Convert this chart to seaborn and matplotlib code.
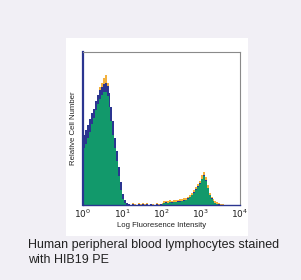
import numpy as np
import pandas as pd
import seaborn as sns
import matplotlib
matplotlib.use("Agg")
import matplotlib.pyplot as plt
from matplotlib.patches import Rectangle

# ---- data (log10 fluorescence bins of width 0.05, from 0 to 4) ----
bin_width = 0.05
n_bins = 80

green = [37, 40, 44, 48, 53, 57, 62, 66, 69, 72,
         74, 74, 71, 64, 55, 46, 37, 29, 19, 10,
         4, 1, 0, 0, 0, 0, 0, 0, 0, 0,
         0, 0, 0, 0, 0, 0, 0, 0, 0, 0,
         0.5, 1.2, 1.5, 1.3, 1.7, 1.5, 1.8, 1.7, 2.0, 2.2,
         2.5, 2.8, 3.2, 4.0, 5.0, 6.5, 8.0, 10, 12, 14,
         17, 19, 16, 11, 6.5, 4, 2.5, 1.2, 0.5, 0,
         0, 0, 0, 0, 0, 0, 0, 0, 0, 0]

blue = [46, 49, 52, 56, 60, 63, 68, 72, 75, 77,
        79, 80, 78, 73, 64, 55, 44, 35, 25, 15,
        7, 3, 1, 0.5, 0, 0.6, 0, 0, 0.7, 0,
        0.5, 0, 0.6, 0, 0.8, 0, 0, 0.5, 0, 0.4,
        0.9, 1.5, 1.8, 1.6, 2.0, 1.8, 2.1, 2.0, 2.3, 2.5,
        2.8, 3.1, 3.5, 4.3, 5.3, 6.8, 8.3, 10.3, 12.3, 14.3,
        17.3, 19.3, 16.3, 11.3, 6.8, 4.3, 2.8, 1.5, 0.8, 0.4,
        0, 0, 0, 0, 0, 0, 0, 0, 0, 0]

orange = [40, 45, 50, 54, 58, 62, 67, 72, 77, 80,
          83, 85, 80, 72, 62, 53, 43, 34, 24, 14,
          6, 2.5, 1, 0.8, 0, 1.0, 0.6, 0, 1.0, 0.5,
          1.0, 0.6, 1.1, 0, 0.9, 0.7, 0, 1.0, 0.5, 0.8,
          1.5, 2.4, 2.8, 2.5, 3.0, 2.9, 3.2, 3.0, 3.5, 3.8,
          4.0, 4.3, 4.8, 5.5, 6.6, 8.0, 9.6, 11.6, 13.8, 16.0,
          19.5, 21.5, 18.0, 12.8, 8.0, 5.5, 3.8, 2.5, 1.8, 1.2,
          0.8, 0.4, 0, 0, 0, 0, 0, 0, 0, 0]

tick_labels = ["$10^{0}$", "$10^{1}$", "$10^{2}$", "$10^{3}$", "$10^{4}$"]
x_label = "Log Fluoresence Intensity"
y_label = "Relative Cell Number"
caption = "Human peripheral blood lymphocytes stained\nwith HIB19 PE"

# ---- build table ----
centers = (np.arange(n_bins) + 0.5) * bin_width
df = pd.DataFrame({"x": centers, "w_green": green, "w_blue": blue, "w_orange": orange})

sns.set_style("white")
plt.rcParams["font.family"] = ["Liberation Sans", "DejaVu Sans"]

fig = plt.figure(figsize=(3.01, 2.80), dpi=100, facecolor="#f1eff5")
# white panel behind the chart
fig.patches.append(Rectangle((66 / 301, 1 - 236 / 280), 182 / 301, 198 / 280,
                             transform=fig.transFigure, facecolor="white",
                             edgecolor="none", zorder=-5))

ax = fig.add_axes([83 / 301, 1 - 205 / 280, 157 / 301, 153 / 280])
ax.set_zorder(2)
ax.set_facecolor("white")

for col, color in [("w_orange", "#f3b13e"), ("w_blue", "#2b3590"), ("w_green", "#12996b")]:
    sns.histplot(data=df, x="x", weights=col, binwidth=bin_width,
                 binrange=(0, n_bins * bin_width), element="step",
                 fill=True, alpha=1, linewidth=0, color=color, ax=ax)

ax.set_xlim(0, 4)
ax.set_ylim(0, 100)
ax.set_xticks(range(5))
ax.set_xticklabels(tick_labels, fontsize=6.5, color="#222222")
ax.set_yticks([])
ax.tick_params(axis="x", length=0, pad=2)
ax.set_xlabel(x_label, fontsize=5.6, color="#222222", labelpad=1)
ax.set_ylabel(y_label, fontsize=5.6, color="#222222", labelpad=4)

for side in ["top", "right"]:
    ax.spines[side].set_color("#8a8a8a")
    ax.spines[side].set_linewidth(0.8)
ax.spines["left"].set_color("#2b3590")
ax.spines["left"].set_linewidth(1.6)
ax.spines["bottom"].set_color("#2b3590")
ax.spines["bottom"].set_linewidth(1.0)

fig.text(28 / 301, 1 - 239 / 280, caption, fontsize=9.0, color="#222222",
         va="top", ha="left", linespacing=1.3)

fig.savefig("out.png", dpi=100, facecolor=fig.get_facecolor())
